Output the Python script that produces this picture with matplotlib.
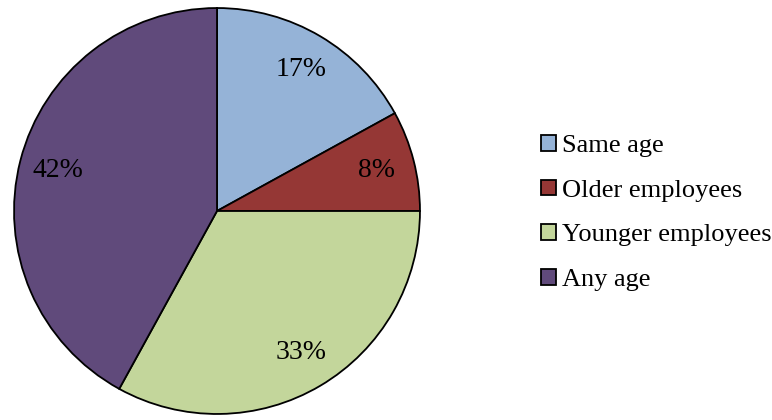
import matplotlib.pyplot as plt

plt.rcParams['font.family'] = ['Liberation Serif', 'DejaVu Serif']

labels = ['Same age', 'Older employees', 'Younger employees', 'Any age']
values = [17, 8, 33, 42]
colors = ['#95B3D7', '#953735', '#C3D69B', '#604A7B']

W, H = 772, 420
fig = plt.figure(figsize=(W / 100, H / 100), dpi=100)

# pie centre and radius in pixels
cx, cy, r = 217, 211, 205
ax = fig.add_axes([(cx - r) / W, (H - cy - r) / H, 2 * r / W, 2 * r / H])

wedges, texts, autotexts = ax.pie(
    values, colors=colors, startangle=90, counterclock=False,
    autopct='%1.0f%%', pctdistance=0.81,
    wedgeprops=dict(edgecolor='black', linewidth=1.3),
    textprops=dict(fontsize=20, color='black'))
ax.set_xlim(-1.01, 1.01)
ax.set_ylim(-1.01, 1.01)
ax.set_aspect('equal')
ax.axis('off')

fig.legend(wedges, labels, loc='center left', bbox_to_anchor=(528 / W, (H - 213) / H),
           frameon=False, fontsize=19, handlelength=0.55, handleheight=0.55,
           handletextpad=0.25, labelspacing=0.85, borderpad=0)

fig.savefig('out.png', dpi=100)
